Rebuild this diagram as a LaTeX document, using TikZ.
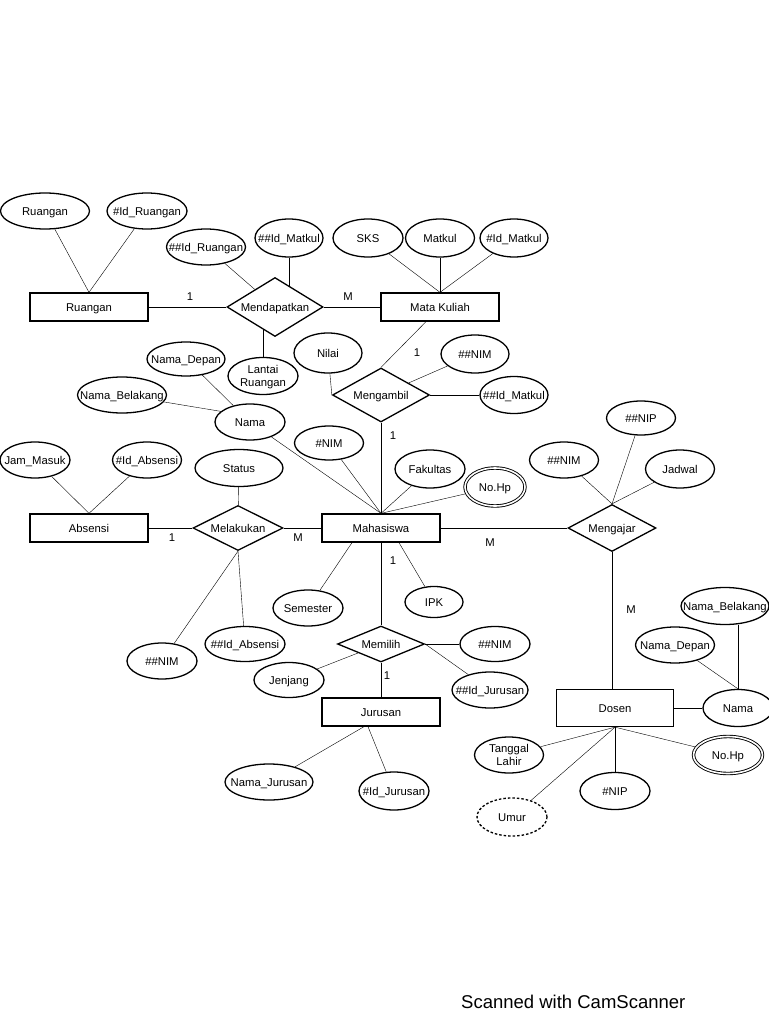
\documentclass[tikz,border=0pt]{standalone}
\usepackage{fontspec}
\setmainfont{Liberation Sans}
\usetikzlibrary{shapes.geometric,backgrounds}
\newcommand\twol[2]{\begin{tabular}{@{}c@{}}#1\\#2\end{tabular}}
\begin{document}
\begin{tikzpicture}[x=1pt,y=-1pt,
  base/.style={draw,line width=1.3pt,fill=white,inner sep=0pt,
    font=\fontsize{11.3}{13}\selectfont,text height=8.2pt,text depth=0pt,
    execute at begin node={\hbox to 0pt\bgroup\hss},
    execute at end node={\hss\egroup}},
  ent/.style={base,rectangle,minimum width=118pt,minimum height=28pt},
  rel/.style n args={2}{base,diamond,minimum width=#1,minimum height=#2},
  attr/.style n args={2}{base,ellipse,minimum width=#1,minimum height=#2},
  multi/.style={line width=0.9pt,double,double distance=1.6pt},
  derived/.style={dashed,dash pattern=on 2.5pt off 2pt},
  card/.style={inner sep=0pt,font=\fontsize{11.3}{13}\selectfont},
  conn/.style={line width=1.5pt}]
\useasboundingbox (0,0) rectangle (768,1024);

% entities
\node[ent] (ruang) at (89,307) {Ruangan};
\node[ent] (mk) at (440,307) {Mata Kuliah};
\node[ent] (abs) at (89,528) {Absensi};
\node[ent] (mhs) at (381,528) {Mahasiswa};
\node[ent] (jur) at (381,712) {Jurusan};
\node[ent,minimum width=117pt,minimum height=37pt] (dos) at (615,708) {Dosen};

% relationships
\node[rel={96pt}{59pt}] (mend) at (275,307) {Mendapatkan};
\node[rel={97pt}{54pt}] (mang) at (381,395) {Mengambil};
\node[rel={90pt}{45pt}] (mel) at (238,528) {Melakukan};
\node[rel={88pt}{47pt}] (meng) at (612,528) {Mengajar};
\node[rel={87pt}{36pt}] (mem) at (381,644) {Memilih};

% attributes
\node[attr={89pt}{36pt}] (aRu) at (45,211) {Ruangan};
\node[attr={80pt}{36pt}] (aIdRu) at (147,211) {\#Id\_Ruangan};
\node[attr={79pt}{36pt}] (aIdRu2) at (206,247) {\#\#Id\_Ruangan};
\node[attr={68pt}{38pt}] (aIdMk) at (289,238) {\#\#Id\_Matkul};
\node[attr={70pt}{38pt}] (aSks) at (368,238) {SKS};
\node[attr={69pt}{38pt}] (aMatkul) at (440,238) {Matkul};
\node[attr={68pt}{38pt}] (aIdMk2) at (514,238) {\#Id\_Matkul};
\node[attr={70pt}{37pt}] (aLantai) at (263,376) {\twol{Lantai}{Ruangan}};
\node[attr={68pt}{40pt}] (aNilai) at (328,353) {Nilai};
\node[attr={68pt}{38pt}] (aNim1) at (475,354) {\#\#NIM};
\node[attr={68pt}{37pt}] (aIdMk3) at (514,395) {\#\#Id\_Matkul};
\node[attr={78pt}{34pt}] (aNd) at (186,359) {Nama\_Depan};
\node[attr={89pt}{36pt}] (aNb) at (122,395) {Nama\_Belakang};
\node[attr={70pt}{36pt}] (aNama) at (250,422) {Nama};
\node[attr={70pt}{36pt}] (aJam) at (35,460) {Jam\_Masuk};
\node[attr={69pt}{36pt}] (aIdAbs) at (147,460) {\#Id\_Absensi};
\node[attr={88pt}{37pt}] (aStatus) at (239,468) {Status};
\node[attr={69pt}{34pt}] (aNim) at (329,443) {\#NIM};
\node[attr={70pt}{38pt}] (aFak) at (430,469) {Fakultas};
\node[attr={60pt}{38pt},multi] (aHp) at (495,487) {No.Hp};
\node[attr={69pt}{34pt}] (aNip2) at (641,418) {\#\#NIP};
\node[attr={69pt}{36pt}] (aNim2) at (564,460) {\#\#NIM};
\node[attr={69pt}{38pt}] (aJadwal) at (680,469) {Jadwal};
\node[attr={70pt}{36pt}] (aSem) at (308,608) {Semester};
\node[attr={58pt}{31pt}] (aIpk) at (434,602) {IPK};
\node[attr={70pt}{36pt}] (aNim3) at (162,661) {\#\#NIM};
\node[attr={80pt}{35pt}] (aIdAbs2) at (245,644) {\#\#Id\_Absensi};
\node[attr={70pt}{35pt}] (aNim4) at (495,644) {\#\#NIM};
\node[attr={70pt}{35pt}] (aJenjang) at (289,680) {Jenjang};
\node[attr={76pt}{36pt}] (aIdJur2) at (490,690) {\#\#Id\_Jurusan};
\node[attr={88pt}{36pt}] (aNamaJur) at (269,782) {Nama\_Jurusan};
\node[attr={70pt}{38pt}] (aIdJur) at (394,791) {\#Id\_Jurusan};
\node[attr={88pt}{37pt}] (aNbd) at (725,606) {Nama\_Belakang};
\node[attr={79pt}{36pt}] (aNdd) at (675,645) {Nama\_Depan};
\node[attr={70pt}{37pt}] (aNamad) at (738,708) {Nama};
\node[attr={69pt}{36pt}] (aTgl) at (509,755) {\twol{Tanggal}{Lahir}};
\node[attr={69pt}{37pt},multi] (aHpd) at (728,755) {No.Hp};
\node[attr={70pt}{37pt}] (aNip) at (615,791) {\#NIP};
\node[attr={70pt}{38pt},derived] (aUmur) at (512,817) {Umur};

% cardinalities
\node[card] (c1) at (190,297) {1};
\node[card] (c2) at (348,297) {M};
\node[card] (c3) at (417,353) {1};
\node[card] (c4) at (393,436) {1};
\node[card] (c5) at (172,538) {1};
\node[card] (c6) at (298,538) {M};
\node[card] (c7) at (490,543) {M};
\node[card] (c8) at (393,561) {1};
\node[card] (c9) at (387,676) {1};
\node[card] (c10) at (631,610) {M};

\node[inner sep=0pt,anchor=west,font=\fontsize{18.5}{20}\selectfont] (cs) at (461,1001.5) {Scanned with CamScanner};

\begin{scope}[on background layer,conn]
\fill[white] (0,0) rectangle (768,1024);
\draw (aRu) -- (ruang.north);
\draw (aIdRu) -- (ruang.north);
\draw (aIdRu2) -- (mend);
\draw (aIdMk.south) -- (aIdMk.south |- mend.center);
\draw (ruang) -- (mend);
\draw (mend) -- (mk);
\draw (aLantai.north) -- (aLantai.north |- mend.center);
\draw (aSks) -- (mk.north);
\draw (aMatkul) -- (mk.north);
\draw (aIdMk2) -- (mk.north);
\draw ([xshift=-14pt]mk.south) -- (mang.north);
\draw (aNilai) -- (mang.west);
\draw (aNim1) -- (mang);
\draw (aIdMk3) -- (mang.east);
\draw (mang) -- (mhs);
\draw (aNd) -- (aNama);
\draw (aNb) -- (aNama.160);
\draw (aNama) -- (mhs.north);
\draw (aNim) -- (mhs.north);
\draw (aFak) -- (mhs.north);
\draw (aHp) -- (mhs.north);
\draw (aJam) -- (abs.north);
\draw (aIdAbs) -- (abs.north);
\draw (aStatus) -- (mel);
\draw (abs) -- (mel);
\draw (mel) -- (mhs);
\draw (mel.south) -- (aNim3);
\draw (mel.south) -- (aIdAbs2);
\draw ([xshift=-29pt]mhs.south) -- (aSem);
\draw ([xshift=18pt]mhs.south) -- (aIpk);
\draw (mhs) -- (mem);
\draw (mem.east) -- (aNim4);
\draw (mem.east) -- (aIdJur2);
\draw (mem) -- (aJenjang);
\draw (mem) -- (jur);
\draw ([xshift=-17pt]jur.south) -- (aNamaJur);
\draw ([xshift=-13pt]jur.south) -- (aIdJur);
\draw (mhs) -- (meng);
\draw (aNim2) -- (meng.north);
\draw (aNip2) -- (meng.north);
\draw (aJadwal) -- (meng.north);
\draw (meng.south) -- (meng.south |- dos.north);
\draw (dos) -- (aNamad);
\draw ([xshift=13pt]aNbd.south) -- (aNamad.north);
\draw (aNdd) -- (aNamad.north);
\draw (dos.south) -- (aTgl);
\draw (dos.south) -- (aNip);
\draw (dos.south) -- (aUmur);
\draw (dos.south) -- (aHpd);
\end{scope}
\end{tikzpicture}
\end{document}
